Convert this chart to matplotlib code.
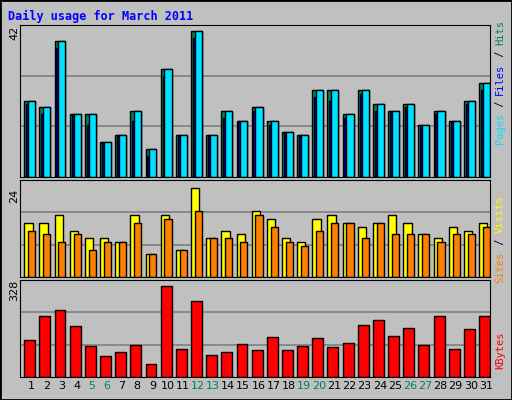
import numpy as np
import matplotlib.pyplot as plt
from matplotlib.patches import Rectangle

days = list(range(1, 32))
hits = [22, 20, 39, 18, 18, 10, 12, 19, 8, 31, 12, 42, 12, 19, 16, 20,
        16, 13, 12, 25, 25, 18, 25, 21, 19, 21, 15, 19, 16, 22, 27]
files = [21, 18, 37, 18, 15, 10, 12, 16, 6, 29, 12, 40, 12, 17, 16, 19,
         15, 13, 12, 23, 22, 17, 24, 19, 19, 20, 15, 18, 16, 21, 25]
pages = hits
visits = [14, 14, 16, 12, 10, 10, 9, 16, 6, 16, 7, 23, 10, 12, 11, 17,
          15, 10, 9, 15, 16, 14, 13, 14, 16, 14, 11, 10, 13, 12, 14]
sites = [12, 11, 9, 11, 7, 9, 9, 14, 6, 15, 7, 17, 10, 10, 9, 16,
         13, 9, 8, 12, 14, 14, 10, 14, 11, 11, 11, 9, 11, 11, 13]
kbytes = [133, 220, 241, 184, 112, 76, 90, 115, 47, 328, 101, 274, 79, 90,
          119, 97, 144, 97, 112, 141, 108, 123, 187, 205, 148, 177, 115,
          220, 101, 173, 220]
weekends = [5, 6, 12, 13, 19, 20, 26, 27]

W, H = 512, 400
fig = plt.figure(figsize=(5.12, 4.0), dpi=100, facecolor='#c0c0c0')
fig.patches.append(Rectangle((0, 0), 1, 1, transform=fig.transFigure,
                             fill=False, edgecolor='black', lw=2))


def add_ax(y0, y1):
    ax = fig.add_axes([20 / W, 1 - y1 / H, 470 / W, (y1 - y0) / H])
    ax.set_facecolor('#c0c0c0')
    ax.set_xlim(0.27, 31.27)
    ax.set_xticks([])
    ax.set_yticks([])
    for s in ax.spines.values():
        s.set_color('black')
    return ax


def grid(ax, top):
    for f in (1 / 3, 2 / 3):
        ax.axhline(top * f, color='#808080', lw=1.2, zorder=0)


x = np.array(days)
edge = dict(edgecolor='black', linewidth=1)

ax1 = add_ax(25, 177)
ax1.set_ylim(0, 42 * 151 / 145)
grid(ax1, 42 * 151 / 145)
ax1.bar(x - 0.45, hits, width=0.72, align='edge', color='#00805c', **edge)
ax1.bar(x - 0.33, files, width=0.14, align='edge', color='#0000ff', **edge)
ax1.bar(x - 0.2, pages, width=0.47, align='edge', color='#00e0ff', **edge)

ax2 = add_ax(180, 277)
ax2.set_ylim(0, 24 * 96 / 92)
grid(ax2, 24 * 96 / 92)
ax2.bar(x - 0.45, visits, width=0.55, align='edge', color='#ffff00', **edge)
ax2.bar(x - 0.2, sites, width=0.47, align='edge', color='#ff8000', **edge)

ax3 = add_ax(280, 377)
ax3.set_ylim(0, 328 * 97 / 91)
grid(ax3, 328 * 97 / 91)
ax3.bar(x - 0.45, kbytes, width=0.72, align='edge', color='#ff0000', **edge)
ax3.set_xticks(x)
ax3.set_xticklabels([str(d) for d in days], fontsize=8)
ax3.tick_params(length=0, pad=3)
for lab, d in zip(ax3.get_xticklabels(), days):
    if d in weekends:
        lab.set_color('#00805c')

fig.text(8 / W, 1 - 16 / H, 'Daily usage for March 2011', color='#0000ff',
         family='DejaVu Sans Mono', weight='bold', fontsize=8.5, va='center')
for y, t in [(33, '42'), (196, '24'), (290, '328')]:
    fig.text(14 / W, 1 - y / H, t, rotation=90, fontsize=8,
             ha='center', va='center')


def side(parts, ycen):
    # vertical stacked coloured label on the right, reading bottom to top
    total = sum(len(p) for p, _ in parts) * 6.2
    y = ycen + total / 2
    for p, c in parts:
        n = len(p) * 6.2
        fig.text(500 / W, 1 - (y - n / 2) / H, p, rotation=90, color=c,
                 family='DejaVu Sans Mono', fontsize=7.5,
                 ha='center', va='center')
        y -= n


side([('Pages', '#00e0ff'), (' / ', 'black'), ('Files', '#0000ff'),
      (' / ', 'black'), ('Hits', '#00805c')], 82)
side([('Sites', '#ff8000'), (' / ', 'black'), ('Visits', '#ffff00')], 239)
side([('KBytes', '#ff0000')], 350)

fig.savefig('out.png', dpi=100, facecolor=fig.get_facecolor())
